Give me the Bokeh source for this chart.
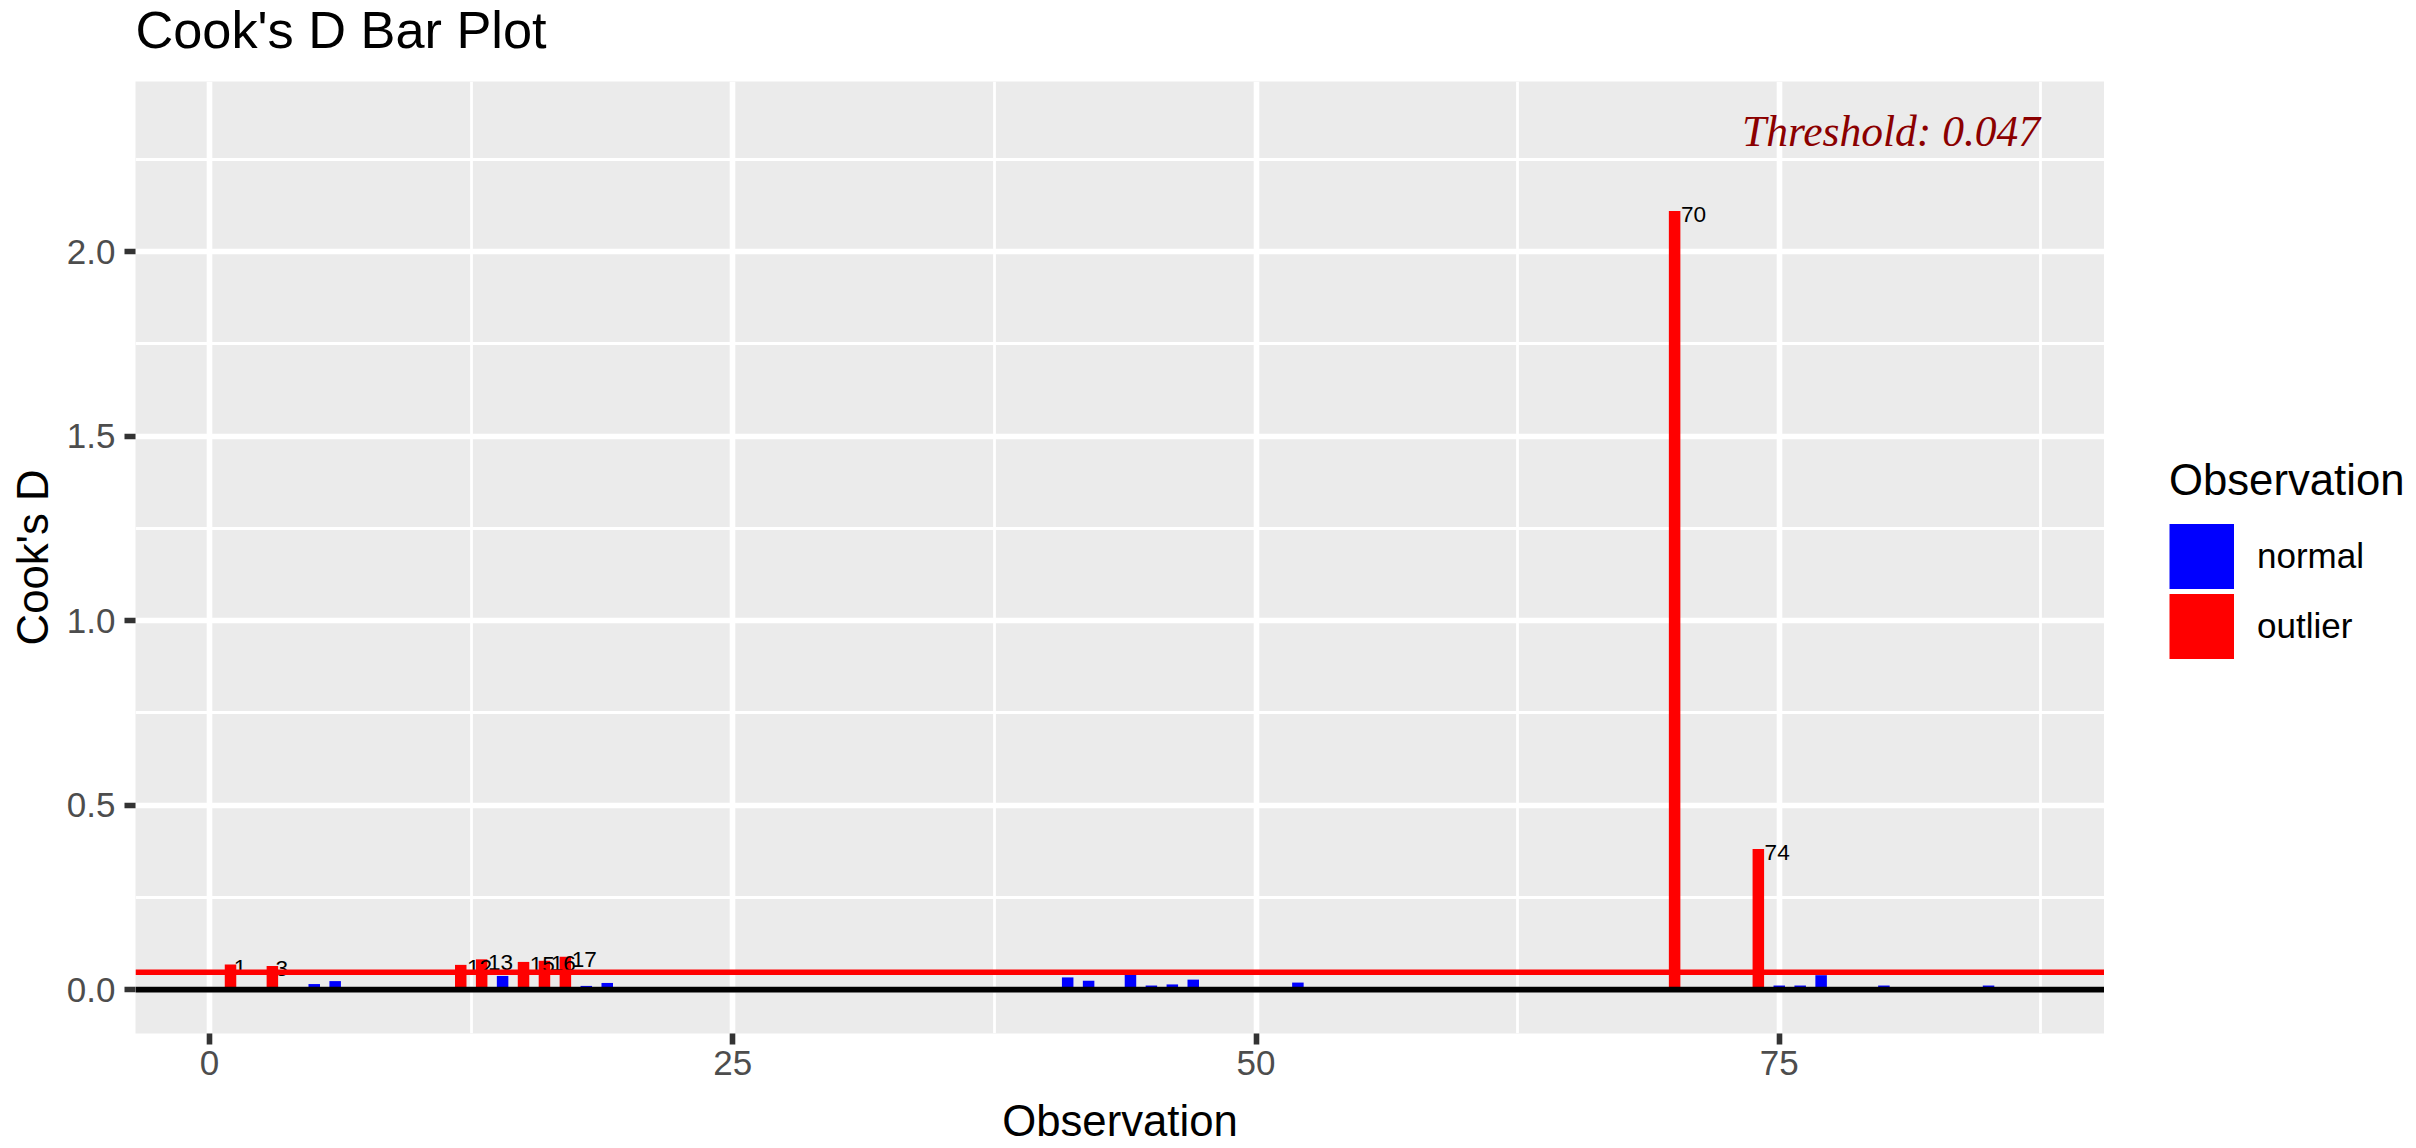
from bokeh.plotting import figure
from bokeh.layouts import column, row
from bokeh.models import (ColumnDataSource, Range1d, FixedTicker, NumeralTickFormatter,
                          Span, Label, Legend, LegendItem)
from bokeh.core.properties import value
from bokeh.embed import file_html
from bokeh.resources import INLINE

# ---- data ----
obs = [1, 3, 5, 6, 12, 13, 14, 15, 16, 17, 18, 19, 41, 42, 44, 45, 46, 47, 52,
       70, 74, 75, 76, 77, 80, 85]
cooks_d = [0.068, 0.064, 0.015, 0.023, 0.067, 0.082, 0.037, 0.075, 0.078, 0.089,
           0.010, 0.018, 0.033, 0.024, 0.040, 0.011, 0.014, 0.027, 0.019,
           2.110, 0.381, 0.011, 0.011, 0.039, 0.011, 0.011]
threshold = 0.047
x_ticks = [0, 25, 50, 75]
y_ticks = [0.0, 0.5, 1.0, 1.5, 2.0]
legend_labels = ["normal", "outlier"]
colors = {"normal": "#0000FF", "outlier": "#FF0000"}
title_text = "Cook's D Bar Plot"
x_title = "Observation"
y_title = "Cook's D"
legend_title = "Observation"

status = ["outlier" if d > threshold else "normal" for d in cooks_d]

FONT = "Liberation Sans"
W, H = 2416, 1148
TOP_H = 81          # title strip
BOT_H = 58          # x-axis title strip
MAIN_W = 2104
MAIN_H = H - TOP_H - BOT_H
ML, MB = 135, 57
BASE_FIX = 0.37     # em shift so that the alphabetic baseline lands where wanted


def blank(width, height):
    f = figure(width=width, height=height, output_backend="svg", toolbar_location=None,
               x_axis_location=None, y_axis_location=None,
               x_range=Range1d(0, 1), y_range=Range1d(0, 1),
               min_border_left=0, min_border_right=0, min_border_top=0, min_border_bottom=0)
    f.outline_line_color = None
    f.background_fill_color = "white"
    f.border_fill_color = "white"
    f.grid.visible = False
    return f


# ---- title strip ----
top = blank(W, TOP_H)
top.add_layout(Label(x=135, y=(TOP_H - 49) + BASE_FIX * 52.3, x_units="screen", y_units="screen",
                     text=title_text, text_font=FONT, text_font_size="52.3px",
                     text_color="black", text_align="left", text_baseline="alphabetic"))

# ---- main panel ----
p = figure(width=MAIN_W, height=MAIN_H, output_backend="svg", toolbar_location=None,
           x_range=Range1d(-3.54, 90.54), y_range=Range1d(-0.119, 2.461),
           min_border_left=ML, min_border_right=0, min_border_top=0, min_border_bottom=MB)
p.background_fill_color = "#EBEBEB"
p.border_fill_color = "white"
p.outline_line_color = None

p.xaxis.ticker = FixedTicker(ticks=x_ticks, minor_ticks=[12.5, 37.5, 62.5, 87.5])
p.yaxis.ticker = FixedTicker(ticks=y_ticks, minor_ticks=[0.25, 0.75, 1.25, 1.75, 2.25])
p.yaxis.formatter = NumeralTickFormatter(format="0.0")
for ax in (p.xaxis, p.yaxis):
    ax.axis_line_color = None
    ax.major_tick_line_color = "#333333"
    ax.major_tick_line_width = 5.6
    ax.major_tick_out = 11
    ax.major_tick_in = 0
    ax.minor_tick_line_color = None
    ax.major_label_text_font = FONT
    ax.major_label_text_font_size = "35px"
    ax.major_label_text_color = "#4D4D4D"
    ax.axis_label_text_font = FONT
    ax.axis_label_text_font_size = "43.7px"
    ax.axis_label_text_font_style = "normal"
    ax.axis_label_text_color = "black"
p.xaxis.major_label_standoff = 6
p.yaxis.major_label_standoff = 9
p.yaxis.axis_label = y_title
p.yaxis.axis_label_standoff = 7

for g in (p.xgrid, p.ygrid):
    g.grid_line_color = "white"
    g.grid_line_width = 5.6
    g.minor_grid_line_color = "white"
    g.minor_grid_line_width = 2.8

sources = {}
for st in legend_labels:
    idx = [i for i, s in enumerate(status) if s == st]
    sources[st] = ColumnDataSource(dict(x=[obs[i] for i in idx], top=[cooks_d[i] for i in idx]))
    p.vbar(x="x", top="top", bottom=0, width=0.55, source=sources[st],
           fill_color=colors[st], line_color=None)

lab_idx = [i for i, s in enumerate(status) if s == "outlier"]
lab_txt = [str(obs[i]) for i in lab_idx]
lab_src = ColumnDataSource(dict(
    x=[obs[i] for i in lab_idx], y=[cooks_d[i] for i in lab_idx], t=lab_txt,
    xo=[0.25 * len(t) * 0.556 * 22.6 for t in lab_txt]))
p.text(x="x", y="y", text="t", source=lab_src, x_offset="xo", y_offset=3,
       text_font=value(FONT), text_font_size="22.6px", text_color="black",
       text_align="left", text_baseline="alphabetic")

p.add_layout(Span(location=threshold, dimension="width", line_color="#FF0000", line_width=5.6))
p.add_layout(Span(location=0, dimension="width", line_color="black", line_width=5.6))

p.add_layout(Label(x=80.34, y=2.328, text="Threshold: " + str(threshold),
                   text_font="Liberation Serif", text_font_style="italic",
                   text_font_size="43.5px", text_color="#8B0000",
                   text_align="center", text_baseline="alphabetic"))

# ---- legend strip (keys drawn as thick line swatches filling the key area) ----
leg = blank(W - MAIN_W, MAIN_H)
leg_r = []
for st in legend_labels:
    r = leg.line(x="x", y="top", source=sources[st], line_color=colors[st],
                 line_width=65, line_cap="butt", visible=False)
    leg_r.append(r)
legend = Legend(items=[LegendItem(label=lab, renderers=[r]) for lab, r in zip(legend_labels, leg_r)],
                location=(65, 372), orientation="vertical",
                title=legend_title, title_text_font=FONT, title_text_font_size="43.7px",
                title_text_font_style="normal", title_text_color="black", title_standoff=16,
                label_text_font=FONT, label_text_font_size="35px", label_text_color="black",
                glyph_width=65, glyph_height=70, spacing=0, label_standoff=23,
                padding=0, margin=0, border_line_color=None, background_fill_alpha=0,
                inactive_fill_alpha=0)
leg.add_layout(legend)

# ---- x-axis title strip ----
bot = blank(W, BOT_H)
bot.add_layout(Label(x=(ML + MAIN_W) / 2, y=(BOT_H - (1136 - (TOP_H + MAIN_H))) + BASE_FIX * 43.7,
                     x_units="screen", y_units="screen",
                     text=x_title, text_font=FONT, text_font_size="43.7px",
                     text_color="black", text_align="center", text_baseline="alphabetic"))

layout = column(top, row(p, leg, spacing=0), bot, spacing=0)
open("out.html", "w").write(file_html(layout, INLINE))
